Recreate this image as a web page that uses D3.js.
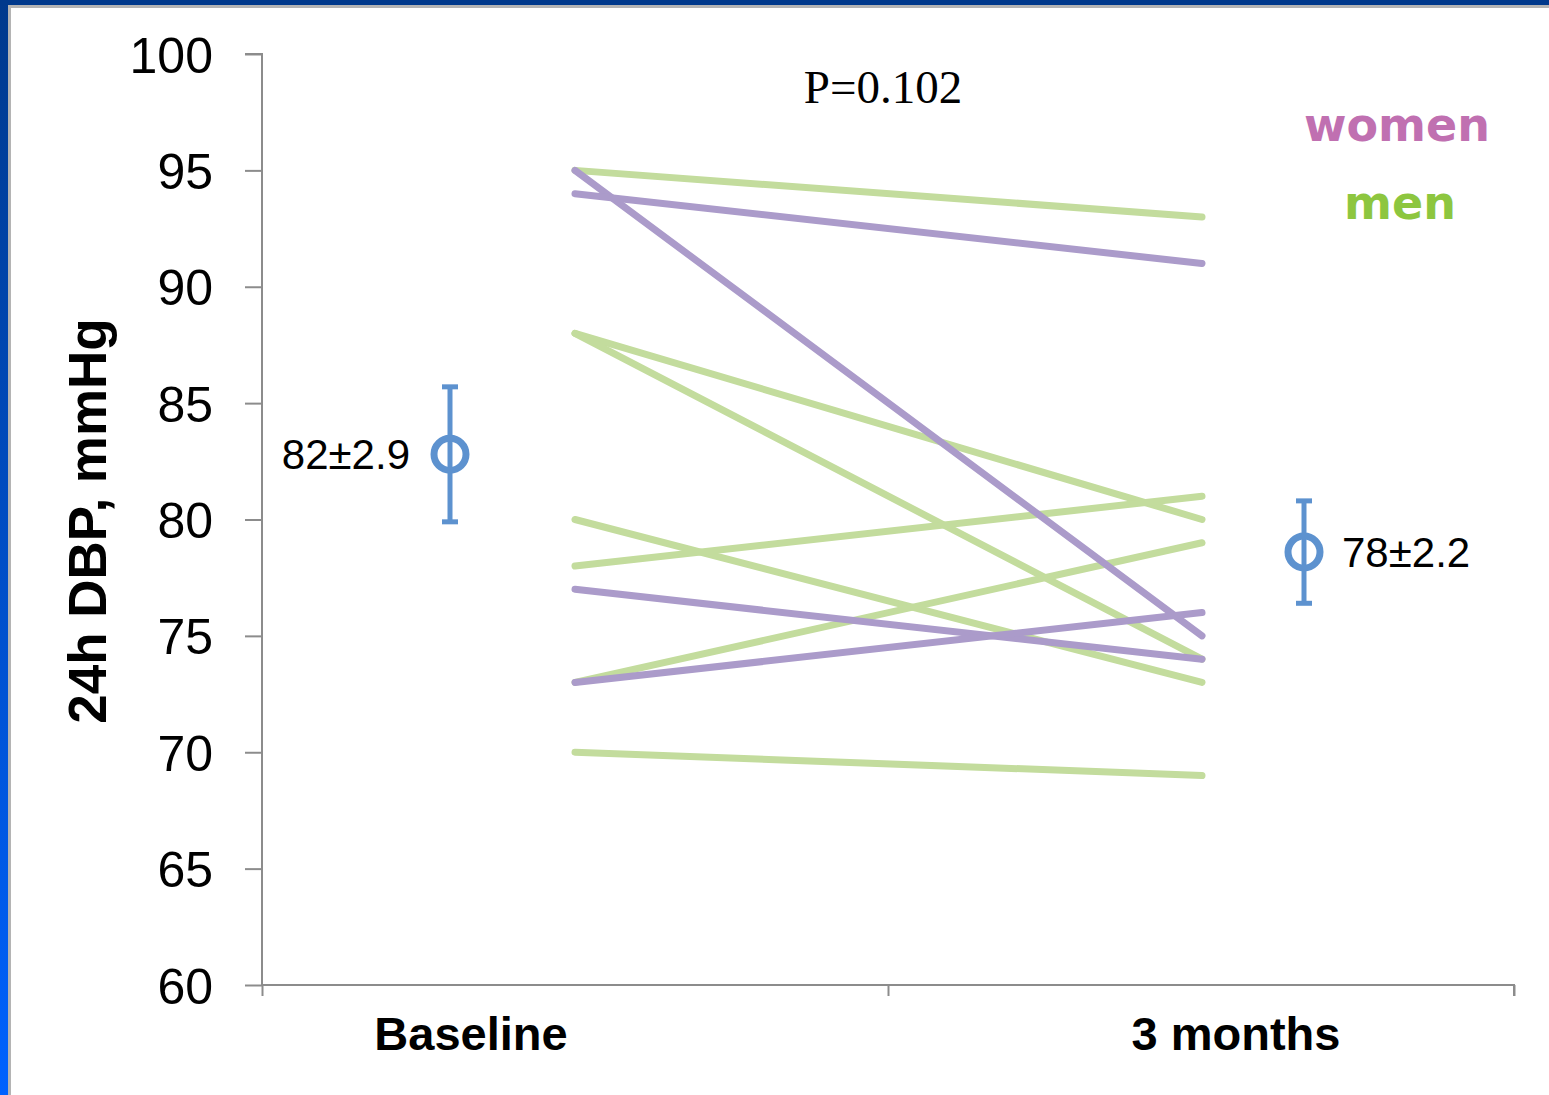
<!DOCTYPE html>
<html>
<head>
<meta charset="utf-8">
<script src="https://cdn.jsdelivr.net/npm/d3@7"></script>
<style>
    body { margin: 0; background: #ffffff; overflow: hidden; }
    #chart { width: 1549px; height: 1095px; }
    .y-axis text { font-family: "Liberation Sans", Arial, sans-serif; font-size: 50px; fill: #000; }
    .y-axis path, .y-axis line, .x-axis path, .x-axis line { stroke: #8c8c8c; stroke-width: 2px; }
</style>
</head>
<body>
<div id="chart"></div>
<script>
// data
const times = ["Baseline", "3 months"];
const yTicks = [60, 65, 70, 75, 80, 85, 90, 95, 100];

// men: [baseline, 3 months]
const menBaseline = [95, 88, 88, 80, 78, 73, 70];
const menMonth3   = [93, 80, 74, 73, 81, 79, 69];
// women
const womenBaseline = [95, 94, 77, 73];
const womenMonth3   = [75, 91, 74, 76];

// group means (plotted) with SD and labels
const meanValues = [82.8, 78.6];
const meanErrors = [2.9, 2.2];
const meanLabels = ["82\u00b12.9", "78\u00b12.2"];
const pLabel = "P=0.102";

const width = 1549, height = 1095;

const svg = d3.select("#chart").append("svg")
    .attr("width", width)
    .attr("height", height);

// blue frame, like the slide
const grad = svg.append("defs").append("linearGradient")
    .attr("id", "sideGrad")
    .attr("x1", 0).attr("y1", 0).attr("x2", 0).attr("y2", 1);
grad.append("stop").attr("offset", "0%").attr("stop-color", "#00398c");
grad.append("stop").attr("offset", "100%").attr("stop-color", "#0062ff");

svg.append("rect").attr("x", 0).attr("y", 0).attr("width", 8).attr("height", height).attr("fill", "url(#sideGrad)");
svg.append("rect").attr("x", 0).attr("y", 0).attr("width", width).attr("height", 5).attr("fill", "#00398c");
svg.append("rect").attr("x", 8).attr("y", 5).attr("width", width).attr("height", 3).attr("fill", "#b4b4b4");
svg.append("rect").attr("x", 8).attr("y", 5).attr("width", 3).attr("height", height).attr("fill", "#b4b4b4");

// scales
const y = d3.scaleLinear().domain([60, 100]).range([985, 54]);
const xAxisScale = d3.scaleLinear().domain([0, 2]).range([262, 1514]);
// where the paired lines start and end
const xLine = d3.scalePoint().domain(times).range([575, 1202]);
// mean markers
const xMean = d3.scalePoint().domain(times).range([450, 1304]);

// y axis
const yAxis = d3.axisLeft(y).tickValues(yTicks).tickSize(17).tickPadding(32).tickFormat(d3.format("d"));
svg.append("g")
    .attr("class", "y-axis")
    .attr("transform", "translate(262,0)")
    .call(yAxis)
    .call(g => g.select(".domain").attr("d", "M-17,54H0V985"))
    .selectAll("text").attr("dy", "0.36em");

// x axis
const xAxis = d3.axisBottom(xAxisScale).tickValues([0, 1, 2]).tickSize(11).tickFormat("");
svg.append("g")
    .attr("class", "x-axis")
    .attr("transform", "translate(0,985)")
    .call(xAxis)
    .call(g => g.select(".domain").attr("d", "M262,0H1514V11"));

// category labels
const catX = [471, 1236];
svg.selectAll(".cat-label")
    .data(times)
    .enter().append("text")
    .attr("class", "cat-label")
    .attr("x", (d, i) => catX[i])
    .attr("y", 1050)
    .attr("text-anchor", "middle")
    .style("font-family", "'Liberation Sans', Arial, sans-serif")
    .style("font-weight", "bold")
    .style("font-size", "47px")
    .text(d => d);

// y label
svg.append("text")
    .attr("transform", "translate(106,521) rotate(-90)")
    .attr("text-anchor", "middle")
    .style("font-family", "'Liberation Sans', Arial, sans-serif")
    .style("font-weight", "bold")
    .style("font-size", "53px")
    .text("24h DBP, mmHg");

// paired lines
const menPairs = menBaseline.map((v, i) => [v, menMonth3[i]]);
const womenPairs = womenBaseline.map((v, i) => [v, womenMonth3[i]]);

const line = d3.line()
    .x((d, i) => xLine(times[i]))
    .y(d => y(d));

function drawPairs(pairs, color, cls) {
    svg.selectAll("." + cls)
        .data(pairs)
        .enter().append("path")
        .attr("class", cls)
        .attr("d", d => line(d))
        .attr("fill", "none")
        .attr("stroke", color)
        .attr("stroke-width", 7)
        .attr("stroke-linecap", "round");
}
drawPairs(menPairs, "#c3dc9d", "men-line");
drawPairs(womenPairs, "#ab9bca", "women-line");

// mean +/- error
const meanData = times.map((t, i) => ({ t: t, m: meanValues[i], e: meanErrors[i], label: meanLabels[i] }));
const meanColor = "#5d92cf";

const mg = svg.selectAll(".mean")
    .data(meanData)
    .enter().append("g")
    .attr("class", "mean");

mg.append("line")
    .attr("x1", d => xMean(d.t)).attr("x2", d => xMean(d.t))
    .attr("y1", d => y(d.m + d.e)).attr("y2", d => y(d.m - d.e))
    .attr("stroke", meanColor).attr("stroke-width", 5);
mg.append("line")
    .attr("x1", d => xMean(d.t) - 8).attr("x2", d => xMean(d.t) + 8)
    .attr("y1", d => y(d.m + d.e)).attr("y2", d => y(d.m + d.e))
    .attr("stroke", meanColor).attr("stroke-width", 5);
mg.append("line")
    .attr("x1", d => xMean(d.t) - 8).attr("x2", d => xMean(d.t) + 8)
    .attr("y1", d => y(d.m - d.e)).attr("y2", d => y(d.m - d.e))
    .attr("stroke", meanColor).attr("stroke-width", 5);
mg.append("circle")
    .attr("cx", d => xMean(d.t))
    .attr("cy", d => y(d.m))
    .attr("r", 16)
    .attr("fill", "none")
    .attr("stroke", meanColor)
    .attr("stroke-width", 7);
mg.append("text")
    .attr("x", (d, i) => i === 0 ? xMean(d.t) - 40 : xMean(d.t) + 38)
    .attr("y", d => y(d.m))
    .attr("dy", "0.36em")
    .attr("text-anchor", (d, i) => i === 0 ? "end" : "start")
    .style("font-family", "'Liberation Sans', Arial, sans-serif")
    .style("font-size", "42px")
    .text(d => d.label);

// p value
svg.append("text")
    .attr("x", 883)
    .attr("y", 103)
    .attr("text-anchor", "middle")
    .style("font-family", "'Liberation Serif', 'Times New Roman', serif")
    .style("font-size", "47px")
    .text(pLabel);

// legend
svg.append("text")
    .attr("x", 1397).attr("y", 141)
    .attr("text-anchor", "middle")
    .style("font-family", "'DejaVu Sans', Verdana, sans-serif")
    .style("font-weight", "bold")
    .style("font-size", "46px")
    .style("fill", "#c070b1")
    .text("women");
svg.append("text")
    .attr("x", 1400).attr("y", 219)
    .attr("text-anchor", "middle")
    .style("font-family", "'DejaVu Sans', Verdana, sans-serif")
    .style("font-weight", "bold")
    .style("font-size", "46px")
    .style("fill", "#8dc63f")
    .text("men");
</script>
</body>
</html>
